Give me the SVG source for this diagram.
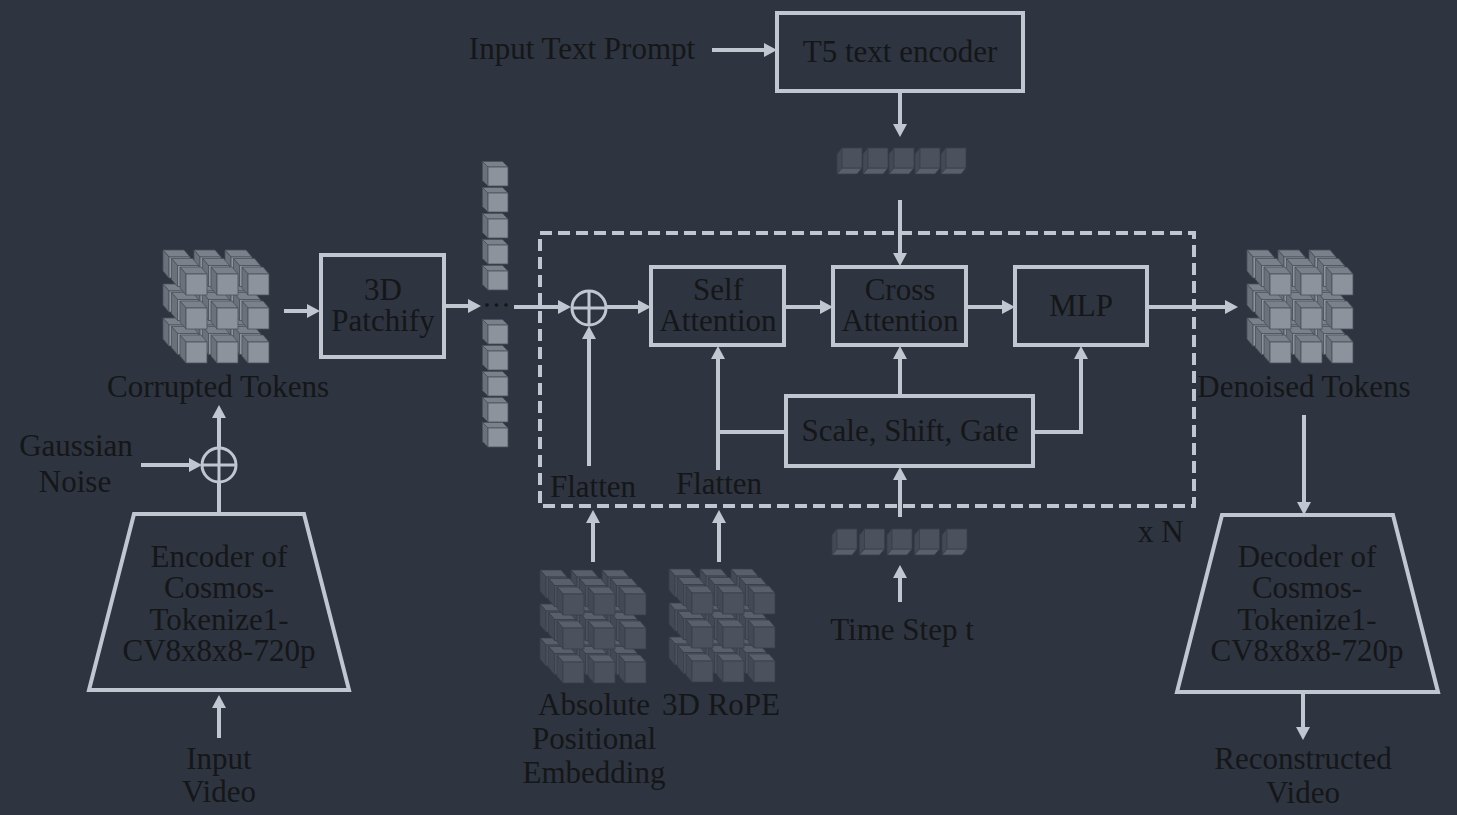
<svg xmlns="http://www.w3.org/2000/svg" xmlns:xlink="http://www.w3.org/1999/xlink" width="1457" height="815" viewBox="0 0 1457 815">
<style>
.box{fill:none;stroke:#c1c7d1;stroke-width:4;stroke-linejoin:miter}
.ln{fill:none;stroke:#c1c7d1;stroke-width:4}
.ar{marker-end:url(#ah)}
.dash{fill:none;stroke:#c1c7d1;stroke-width:4;stroke-dasharray:12 6}
.op{fill:none;stroke:#c1c7d1;stroke-width:3}
.t{font-family:"Liberation Serif",serif;font-size:31px;fill:#151618;text-anchor:middle}
.lf{fill:#8d939d;stroke:#4b515a;stroke-width:0.8}
.lt{fill:#7b818b;stroke:#4b515a;stroke-width:0.8}
.ll{fill:#6b717b;stroke:#4b515a;stroke-width:0.8}
.df{fill:#4c525d;stroke:#3a404a;stroke-width:0.8}
.dt{fill:#5a606b;stroke:#3a404a;stroke-width:0.8}
.dl{fill:#444a55;stroke:#3a404a;stroke-width:0.8}
</style>
<defs>
<marker id="ah" markerUnits="userSpaceOnUse" markerWidth="14" markerHeight="14" refX="3" refY="7" orient="auto">
<path d="M0,0 L13,7 L0,14 z" fill="#c1c7d1"/>
</marker>
<g id="cL">
<polygon class="lt" points="0,0 21,0 15,-7 -6,-7"/>
<polygon class="ll" points="0,0 0,21 -6,14 -6,-7"/>
<rect class="lf" x="0" y="0" width="21" height="21"/>
</g>
<g id="cD">
<polygon class="dt" points="0,0 21,0 15,-7 -6,-7"/>
<polygon class="dl" points="0,0 0,21 -6,14 -6,-7"/>
<rect class="df" x="0" y="0" width="21" height="21"/>
</g>
<g id="cS">
<polygon class="lt" points="0,0 20,0 14.5,-5.5 -5.5,-5.5"/>
<polygon class="ll" points="0,0 0,19 -5.5,13.5 -5.5,-5.5"/>
<rect class="lf" x="0" y="0" width="20" height="19"/>
</g>
<g id="cR">
<polygon class="dl" points="0,0 0,20 -5,26 -5,6"/>
<polygon class="dt" points="0,20 20,20 15,26 -5,26"/>
<rect class="df" x="0" y="0" width="20" height="20"/>
</g>
<g id="clL">
<use href="#cL" x="6" y="7"/><use href="#cL" x="37" y="7"/><use href="#cL" x="68" y="7"/>
<use href="#cL" x="6" y="41"/><use href="#cL" x="37" y="41"/><use href="#cL" x="68" y="41"/>
<use href="#cL" x="6" y="75"/><use href="#cL" x="37" y="75"/><use href="#cL" x="68" y="75"/>
<use href="#cL" x="14.5" y="15.5"/><use href="#cL" x="45.5" y="15.5"/><use href="#cL" x="76.5" y="15.5"/>
<use href="#cL" x="14.5" y="49.5"/><use href="#cL" x="45.5" y="49.5"/><use href="#cL" x="76.5" y="49.5"/>
<use href="#cL" x="14.5" y="83.5"/><use href="#cL" x="45.5" y="83.5"/><use href="#cL" x="76.5" y="83.5"/>
<use href="#cL" x="23" y="24"/><use href="#cL" x="54" y="24"/><use href="#cL" x="85" y="24"/>
<use href="#cL" x="23" y="58"/><use href="#cL" x="54" y="58"/><use href="#cL" x="85" y="58"/>
<use href="#cL" x="23" y="92"/><use href="#cL" x="54" y="92"/><use href="#cL" x="85" y="92"/>
</g>
<g id="clD">
<use href="#cD" x="6" y="7"/><use href="#cD" x="37" y="7"/><use href="#cD" x="68" y="7"/>
<use href="#cD" x="6" y="41"/><use href="#cD" x="37" y="41"/><use href="#cD" x="68" y="41"/>
<use href="#cD" x="6" y="75"/><use href="#cD" x="37" y="75"/><use href="#cD" x="68" y="75"/>
<use href="#cD" x="14.5" y="15.5"/><use href="#cD" x="45.5" y="15.5"/><use href="#cD" x="76.5" y="15.5"/>
<use href="#cD" x="14.5" y="49.5"/><use href="#cD" x="45.5" y="49.5"/><use href="#cD" x="76.5" y="49.5"/>
<use href="#cD" x="14.5" y="83.5"/><use href="#cD" x="45.5" y="83.5"/><use href="#cD" x="76.5" y="83.5"/>
<use href="#cD" x="23" y="24"/><use href="#cD" x="54" y="24"/><use href="#cD" x="85" y="24"/>
<use href="#cD" x="23" y="58"/><use href="#cD" x="54" y="58"/><use href="#cD" x="85" y="58"/>
<use href="#cD" x="23" y="92"/><use href="#cD" x="54" y="92"/><use href="#cD" x="85" y="92"/>
</g>
</defs>
<rect x="0" y="0" width="1457" height="815" fill="#2e3440"/>

<g id="connectors">
<line class="ln ar" x1="712" y1="50" x2="767" y2="50"/>
<line class="ln ar" x1="900" y1="91" x2="900" y2="127"/>
<line class="ln ar" x1="900" y1="200" x2="900" y2="256"/>
<line class="ln ar" x1="284" y1="311" x2="310" y2="311"/>
<line class="ln ar" x1="445" y1="306" x2="471" y2="306"/>
<line class="ln ar" x1="514" y1="307" x2="561" y2="307"/>
<line class="ln ar" x1="606" y1="307" x2="641" y2="307"/>
<line class="ln ar" x1="784" y1="307" x2="823" y2="307"/>
<line class="ln ar" x1="966" y1="307" x2="1005" y2="307"/>
<line class="ln ar" x1="1147" y1="307" x2="1228" y2="307"/>
<line class="ln ar" x1="589" y1="466" x2="589" y2="336"/>
<path class="ln ar" d="M718,470 V356"/>
<path class="ln" d="M786,432 H718"/>
<line class="ln ar" x1="900" y1="396" x2="900" y2="356"/>
<path class="ln ar" d="M1033,432 H1081 V356"/>
<line class="ln ar" x1="900" y1="517" x2="900" y2="477"/>
<line class="ln ar" x1="900" y1="602" x2="900" y2="575"/>
<line class="ln ar" x1="593" y1="562" x2="593" y2="520"/>
<line class="ln ar" x1="719" y1="562" x2="719" y2="520"/>
<line class="ln ar" x1="1304" y1="415" x2="1304" y2="505"/>
<line class="ln ar" x1="1303" y1="692" x2="1303" y2="730"/>
<line class="ln ar" x1="219" y1="738" x2="219" y2="705"/>
<line class="ln" x1="219" y1="514" x2="219" y2="483"/>
<line class="ln ar" x1="219" y1="448" x2="219" y2="415"/>
<line class="ln ar" x1="141" y1="465" x2="192" y2="465"/>
</g>

<g id="dit-block">
<rect class="dash" x="540" y="233" width="654" height="273"/>
<text class="t" x="1138" y="542" style="text-anchor:start">x N</text>
</g>

<g id="prompt"><text class="t" x="582" y="59">Input Text Prompt</text></g>
<g id="t5"><rect class="box" x="777" y="13" width="246" height="78"/><text class="t" x="900" y="62">T5 text encoder</text></g>
<g id="text-tokens">
<use href="#cR" x="842" y="148"/><use href="#cR" x="868" y="148"/><use href="#cR" x="894" y="148"/><use href="#cR" x="920" y="148"/><use href="#cR" x="946" y="148"/>
</g>
<g id="corrupted"><use href="#clL" x="163" y="250"/><text class="t" x="218" y="397">Corrupted Tokens</text></g>
<g id="patchify"><rect class="box" x="321" y="255" width="123" height="102"/><text class="t" x="383" y="300">3D</text><text class="t" x="383" y="331">Patchify</text></g>
<g id="token-seq">
<use href="#cS" x="488" y="167"/><use href="#cS" x="488" y="193"/><use href="#cS" x="488" y="219"/><use href="#cS" x="488" y="245"/><use href="#cS" x="488" y="271"/>
<circle cx="487" cy="305" r="1.8" fill="#151618"/><circle cx="496.5" cy="305" r="1.8" fill="#151618"/><circle cx="506" cy="305" r="1.8" fill="#151618"/>
<use href="#cS" x="488" y="325"/><use href="#cS" x="488" y="351"/><use href="#cS" x="488" y="377"/><use href="#cS" x="488" y="403"/><use href="#cS" x="488" y="428"/>
</g>
<g id="add-pos"><circle class="op" cx="589" cy="308" r="17"/><path class="op" d="M572,308 H606 M589,291 V325"/></g>
<g id="self-attn"><rect class="box" x="651" y="267" width="133" height="78"/><text class="t" x="718" y="300">Self</text><text class="t" x="718" y="331">Attention</text></g>
<g id="cross-attn"><rect class="box" x="833" y="267" width="133" height="78"/><text class="t" x="900" y="300">Cross</text><text class="t" x="900" y="331">Attention</text></g>
<g id="mlp"><rect class="box" x="1015" y="267" width="132" height="78"/><text class="t" x="1081" y="316">MLP</text></g>
<g id="scale-shift"><rect class="box" x="786" y="396" width="247" height="70"/><text class="t" x="910" y="441">Scale, Shift, Gate</text></g>
<g id="flatten1"><text class="t" x="593" y="497">Flatten</text></g>
<g id="flatten2"><text class="t" x="719" y="494">Flatten</text></g>
<g id="abs-pos"><use href="#clD" x="540" y="570"/><text class="t" x="594" y="715">Absolute</text><text class="t" x="594" y="749">Positional</text><text class="t" x="594" y="783">Embedding</text></g>
<g id="rope"><use href="#clD" x="669" y="569"/><text class="t" x="721" y="715">3D RoPE</text></g>
<g id="time-tokens">
<use href="#cR" x="837" y="529"/><use href="#cR" x="864.5" y="529"/><use href="#cR" x="892" y="529"/><use href="#cR" x="919.5" y="529"/><use href="#cR" x="947" y="529"/>
</g>
<g id="time-step"><text class="t" x="902" y="640">Time Step t</text></g>
<g id="denoised"><use href="#clL" x="1247" y="250"/><text class="t" x="1304" y="397">Denoised Tokens</text></g>
<g id="decoder"><polygon class="box" points="1222,515 1393,515 1438,692 1177,692"/>
<text class="t" x="1307" y="567">Decoder of</text><text class="t" x="1307" y="598">Cosmos-</text><text class="t" x="1307" y="630">Tokenize1-</text><text class="t" x="1307" y="661">CV8x8x8-720p</text></g>
<g id="recon"><text class="t" x="1303" y="769">Reconstructed</text><text class="t" x="1303" y="803">Video</text></g>
<g id="encoder"><polygon class="box" points="134,514 304,514 349,690 89,690"/>
<text class="t" x="219" y="567">Encoder of</text><text class="t" x="219" y="598">Cosmos-</text><text class="t" x="219" y="630">Tokenize1-</text><text class="t" x="219" y="661">CV8x8x8-720p</text></g>
<g id="input-video"><text class="t" x="219" y="769">Input</text><text class="t" x="219" y="802">Video</text></g>
<g id="noise-add"><circle class="op" cx="219" cy="465" r="17"/><path class="op" d="M202,465 H236 M219,448 V482"/></g>
<g id="gaussian"><text class="t" x="76" y="456">Gaussian</text><text class="t" x="75" y="492">Noise</text></g>
</svg>
